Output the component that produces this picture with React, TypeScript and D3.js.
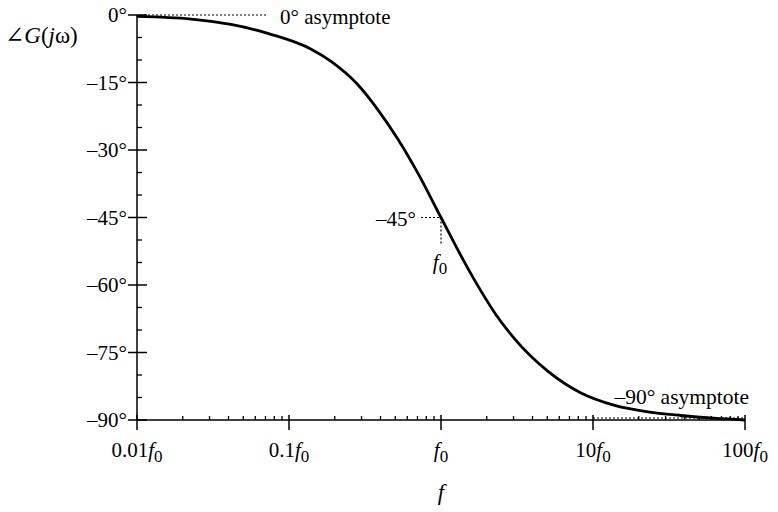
import React from "react";
import * as d3 from "d3";

// Data (frequency as multiple of f0, phase in degrees)
const freqs = [0.01, 0.0227, 0.0415, 0.0762, 0.14, 0.189, 0.284, 0.391, 0.521, 0.706, 1, 1.42, 1.83, 2.3, 3.02, 5.06, 8.34, 13.7, 23, 37.9, 62.5, 100];
const phases = [-0.3, -0.9, -2.1, -4.3, -7.6, -10.3, -15.5, -21.4, -27.6, -35.2, -45, -54.8, -61.3, -66.6, -71.8, -79.2, -84.0, -86.7, -88.2, -89.0, -89.6, -90];

const yTickValues = [0, -15, -30, -45, -60, -75, -90];
const yTickLabels = ["0°", "–15°", "–30°", "–45°", "–60°", "–75°", "–90°"];
const xTickValues = [0.01, 0.1, 1, 10, 100];
const xTickPrefixes = ["0.01", "0.1", "", "10", "100"];

const W = 778;
const H = 512;
const FONT = "Liberation Serif, DejaVu Serif, serif";

export default function App() {
  const x = d3.scaleLog().domain([0.01, 100]).range([137, 745]);
  const y = d3.scaleLinear().domain([-90, 0]).range([420, 15]);

  const pts: [number, number][] = freqs.map((f, i) => [x(f), y(phases[i])]);
  const line = d3.line().curve(d3.curveMonotoneX)(pts) || "";

  const yMinor = d3.range(-85, 0, 5).filter((v) => v % 15 !== 0);
  const xMinor: number[] = [];
  for (const dec of [0.01, 0.1, 1, 10]) for (let k = 2; k <= 9; k++) xMinor.push(dec * k);

  const x0 = x(0.01);
  const yAxis = y(-90);
  const ts = { fontFamily: FONT };

  return (
    <svg width={W} height={H} style={{ position: "absolute", left: 0, top: 0, background: "#fff" }}>
      <rect x={0} y={0} width={W} height={H} fill="#fff" />
      {/* axes */}
      <line x1={x0} x2={x0} y1={y(0)} y2={yAxis} stroke="#000" strokeWidth={1.5} />
      <line x1={x0} x2={x(100)} y1={yAxis} y2={yAxis} stroke="#000" strokeWidth={1.5} />
      {yTickValues.map((v, i) => (
        <g key={"yt" + v}>
          <line x1={x0 - 9} x2={x0 + 10} y1={y(v)} y2={y(v)} stroke="#000" strokeWidth={1.5} />
          <text x={x0 - 10} y={y(v) + 7} textAnchor="end" fontSize={21} style={ts}>{yTickLabels[i]}</text>
        </g>
      ))}
      {yMinor.map((v) => (
        <line key={"ym" + v} x1={x0} x2={x0 + 5} y1={y(v)} y2={y(v)} stroke="#000" strokeWidth={1.3} />
      ))}
      {xTickValues.map((v, i) => (
        <g key={"xt" + v}>
          <line x1={x(v)} x2={x(v)} y1={yAxis - 5} y2={yAxis + 10} stroke="#000" strokeWidth={1.5} />
          <text x={x(v)} y={yAxis + 37} textAnchor="middle" fontSize={21} style={ts}>
            <tspan>{xTickPrefixes[i]}</tspan>
            <tspan fontStyle="italic">f</tspan>
            <tspan dy={5} fontSize={17}>0</tspan>
          </text>
        </g>
      ))}
      {xMinor.map((v) => (
        <line key={"xm" + v} x1={x(v)} x2={x(v)} y1={yAxis - 4} y2={yAxis} stroke="#000" strokeWidth={1.3} />
      ))}

      {/* asymptotes */}
      <line x1={x0 + 3} x2={268} y1={y(0)} y2={y(0)} stroke="#000" strokeWidth={1.2} strokeDasharray="2,2" />
      <text x={280} y={24} fontSize={21} style={ts}>0° asymptote</text>
      <line x1={x(10)} x2={x(100)} y1={y(-90) - 2} y2={y(-90) - 2} stroke="#000" strokeWidth={1.2} strokeDasharray="2,2" />
      <text x={749} y={404} textAnchor="end" fontSize={21.5} style={ts}>–90° asymptote</text>

      {/* -45 marker */}
      <line x1={421} x2={x(1)} y1={y(-45)} y2={y(-45)} stroke="#000" strokeWidth={1.2} strokeDasharray="2,2" />
      <line x1={x(1)} x2={x(1)} y1={y(-45)} y2={y(-45) + 28} stroke="#000" strokeWidth={1.2} strokeDasharray="2,2" />
      <text x={416} y={y(-45) + 8} textAnchor="end" fontSize={21} style={ts}>–45°</text>
      <text x={x(1) - 1} y={269} textAnchor="middle" fontSize={21} style={ts}>
        <tspan fontStyle="italic">f</tspan>
        <tspan dy={5} fontSize={17}>0</tspan>
      </text>

      {/* curve */}
      <path d={line} fill="none" stroke="#000" strokeWidth={2.8} />

      {/* axis labels */}
      <text x={5} y={43} fontSize={23} style={ts}>
        <tspan>∠</tspan>
        <tspan fontStyle="italic">G</tspan>
        <tspan>(</tspan>
        <tspan fontStyle="italic">j</tspan>
        <tspan>ω)</tspan>
      </text>
      <text x={441} y={500} textAnchor="middle" fontSize={23} fontStyle="italic" style={ts}>f</text>
    </svg>
  );
}
